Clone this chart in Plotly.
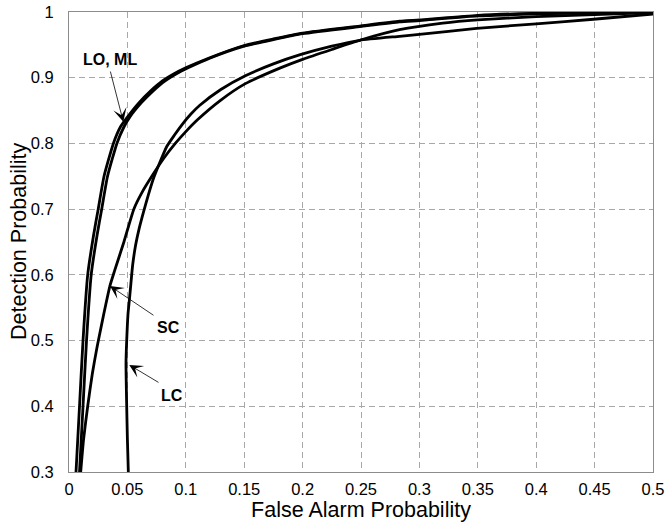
import plotly.graph_objects as go

# ---- data ----
lo_x = [0.006, 0.009, 0.012, 0.016, 0.021, 0.025, 0.030, 0.038, 0.044, 0.050, 0.060, 0.070, 0.080, 0.090, 0.100, 0.120, 0.150, 0.175, 0.200, 0.250, 0.283, 0.300, 0.350, 0.400, 0.450, 0.500]
lo_y = [0.300, 0.400, 0.500, 0.600, 0.660, 0.700, 0.750, 0.800, 0.825, 0.840, 0.862, 0.880, 0.895, 0.906, 0.915, 0.930, 0.949, 0.959, 0.968, 0.979, 0.986, 0.988, 0.995, 0.998, 0.999, 1.000]

ml_x = [0.009, 0.012, 0.015, 0.019, 0.024, 0.028, 0.033, 0.041, 0.047, 0.052, 0.062, 0.072, 0.082, 0.092, 0.102, 0.121, 0.150, 0.175, 0.200, 0.250, 0.283, 0.300, 0.350, 0.400, 0.450, 0.500]
ml_y = [0.300, 0.400, 0.500, 0.600, 0.660, 0.700, 0.750, 0.800, 0.825, 0.840, 0.862, 0.880, 0.895, 0.906, 0.915, 0.930, 0.948, 0.958, 0.967, 0.978, 0.985, 0.987, 0.994, 0.997, 0.999, 1.000]

sc_x = [0.010, 0.0125, 0.016, 0.020, 0.024, 0.028, 0.0315, 0.035, 0.039, 0.047, 0.0555, 0.063, 0.072, 0.081, 0.091, 0.100, 0.110, 0.130, 0.151, 0.181, 0.200, 0.225, 0.249, 0.283, 0.320, 0.350, 0.400, 0.450, 0.500]
sc_y = [0.300, 0.350, 0.400, 0.450, 0.490, 0.525, 0.555, 0.583, 0.606, 0.650, 0.700, 0.727, 0.753, 0.777, 0.800, 0.818, 0.836, 0.866, 0.891, 0.915, 0.928, 0.943, 0.957, 0.973, 0.983, 0.988, 0.993, 0.996, 0.999]

lc_x = [0.0508, 0.0500, 0.0494, 0.0488, 0.0494, 0.0505, 0.0517, 0.0528, 0.0545, 0.0570, 0.0600, 0.0640, 0.0680, 0.0720, 0.0780, 0.0836, 0.0900, 0.0965, 0.104, 0.112, 0.130, 0.151, 0.175, 0.198, 0.225, 0.249, 0.283, 0.300, 0.349, 0.400, 0.449, 0.500]
lc_y = [0.300, 0.350, 0.400, 0.466, 0.500, 0.540, 0.562, 0.583, 0.615, 0.645, 0.670, 0.697, 0.722, 0.745, 0.772, 0.795, 0.812, 0.828, 0.844, 0.858, 0.882, 0.903, 0.921, 0.935, 0.948, 0.957, 0.963, 0.966, 0.975, 0.982, 0.989, 0.997]

x_ticks = [0, 0.05, 0.1, 0.15, 0.2, 0.25, 0.3, 0.35, 0.4, 0.45, 0.5]
x_labels = ["0", "0.05", "0.1", "0.15", "0.2", "0.25", "0.3", "0.35", "0.4", "0.45", "0.5"]
y_ticks = [0.3, 0.4, 0.5, 0.6, 0.7, 0.8, 0.9, 1.0]
y_labels = ["0.3", "0.4", "0.5", "0.6", "0.7", "0.8", "0.9", "1"]

FONT = "Liberation Sans, Arial, sans-serif"

fig = go.Figure()
for name, xs, ys in [("LO", lo_x, lo_y), ("ML", ml_x, ml_y), ("SC", sc_x, sc_y), ("LC", lc_x, lc_y)]:
    fig.add_trace(go.Scatter(x=xs, y=ys, mode="lines", name=name,
                             line=dict(color="black", width=2.8, shape="spline", smoothing=0.5),
                             showlegend=False))

def arrow(tx, ty, hx, hy):
    fig.add_annotation(x=hx, y=hy, ax=tx, ay=ty, xref="x", yref="y", axref="x", ayref="y",
                       text="", showarrow=True, arrowhead=3, arrowsize=2.8, arrowwidth=0.8,
                       arrowcolor="black", standoff=0)

def label(x, y, t):
    fig.add_annotation(x=x, y=y, xref="x", yref="y", text="<b>%s</b>" % t, showarrow=False,
                       font=dict(family=FONT, size=16, color="black"))

arrow(0.0351, 0.9117, 0.0465, 0.833)
label(0.0351, 0.927, "LO, ML")
arrow(0.0736, 0.537, 0.0351, 0.583)
label(0.0852, 0.520, "SC")
arrow(0.0779, 0.435, 0.0516, 0.463)
label(0.0882, 0.417, "LC")

# y axis title placed as rotated text
fig.add_annotation(x=0, y=0.5, xref="paper", yref="paper", xshift=-50, textangle=-90,
                   text="Detection Probability", showarrow=False, xanchor="center", yanchor="middle",
                   font=dict(family=FONT, size=21.5, color="black"))

axis_common = dict(showgrid=True, gridcolor="#a8a8a8", gridwidth=1, griddash="6px,4px",
                   zeroline=False, showline=True, linecolor="#8c8c8c", linewidth=1, mirror=True,
                   ticks="", tickfont=dict(family=FONT, size=16.5, color="black"))

fig.update_xaxes(range=[0, 0.5], tickvals=x_ticks, ticktext=x_labels,
                 title=dict(text="False Alarm Probability", font=dict(family=FONT, size=21.5, color="black"), standoff=4),
                 ticklabelstandoff=2, **axis_common)
fig.update_yaxes(range=[0.3, 1.0], tickvals=y_ticks, ticktext=y_labels,
                 ticklabelstandoff=11, **axis_common)

fig.update_layout(width=666, height=527, margin=dict(l=69, r=13, t=12, b=55, autoexpand=False),
                  plot_bgcolor="white", paper_bgcolor="white", font=dict(family=FONT))

fig.write_html("out.html")
